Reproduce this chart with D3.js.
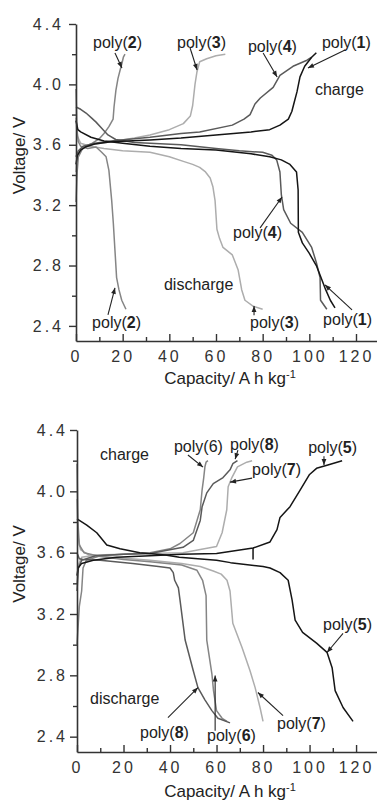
<!DOCTYPE html>
<html>
<head>
<meta charset="utf-8">
<script src="https://cdn.jsdelivr.net/npm/d3@7"></script>
<style>
  html, body { margin: 0; padding: 0; background: #fff; }
  svg { display: block; }
  .tick text { font-family: "Liberation Sans Narrow", "Liberation Sans", Arial, sans-serif; font-size: 16px; fill: #333; letter-spacing: 3px; }
  .title { font-family: "Liberation Sans", Arial, sans-serif; font-size: 17px; fill: #222; }
  .note { font-family: "Liberation Sans", Arial, sans-serif; font-size: 16px; fill: #222; }
</style>
</head>
<body>
<svg id="chart" width="377" height="804"></svg>
<script>
// ---- axis ticks ----
const capacityTicks = [0, 20, 40, 60, 80, 100, 120];
const capacityMinor = [10, 30, 50, 70, 90, 110];
const voltageTicks = [2.4, 2.8, 3.2, 3.6, 4.0, 4.4];
const voltageMinor = [2.6, 3.0, 3.4, 3.8, 4.2];

// ---- charge / discharge curves: [capacity (A h kg-1), voltage (V)] ----
const poly1Charge = [[0,3.47],[0.6,3.53],[2,3.565],[4,3.585],[8,3.605],[15,3.62],[31.7,3.632],[45,3.645],[60,3.665],[75,3.685],[83,3.70],[87.4,3.73],[91,3.77],[92.5,3.82],[93.5,3.88],[94.7,3.95],[96,4.05],[98,4.12],[101,4.18],[103,4.21]];
const poly1Discharge = [[0,3.76],[0.8,3.70],[2,3.685],[6.4,3.65],[12,3.625],[20,3.61],[31.7,3.59],[45,3.575],[60,3.565],[75,3.54],[83,3.52],[88,3.50],[91.7,3.47],[94.5,3.42],[95.2,3.30],[95.3,3.02],[97,2.95],[100,2.88],[103,2.80],[105,2.72],[107,2.64],[109,2.57],[111,2.52]];
const poly2Charge = [[0,3.22],[0.5,3.42],[1,3.52],[3,3.58],[7,3.61],[10,3.64],[12,3.675],[14.1,3.72],[15.9,3.77],[16.3,3.85],[17.1,3.96],[18,4.04],[19,4.10],[19.7,4.14],[20.3,4.18],[21,4.20]];
const poly2Discharge = [[0,3.97],[0.4,3.70],[1,3.62],[2,3.59],[5,3.575],[8.6,3.585],[11,3.55],[12.9,3.52],[14.1,3.43],[15.3,3.23],[16,3.08],[16.7,2.90],[17.4,2.72],[18.4,2.64],[19.6,2.57],[21.4,2.51]];
const poly3Charge = [[0,3.42],[0.5,3.52],[2,3.57],[6,3.60],[15,3.62],[25,3.645],[31.7,3.665],[40,3.70],[46,3.74],[49,3.79],[50,3.86],[51,4.00],[51.8,4.08],[53,4.15],[56,4.17],[60,4.19],[64,4.20]];
const poly3Discharge = [[0,3.78],[0.5,3.66],[2,3.61],[6,3.59],[12,3.575],[20,3.56],[31.7,3.55],[40,3.52],[46,3.49],[50,3.47],[53,3.45],[55.5,3.42],[57.5,3.38],[58.7,3.32],[59.6,3.23],[60.4,3.04],[61.5,2.98],[63,2.92],[67,2.87],[69.5,2.77],[71,2.64],[72.4,2.57],[76,2.53],[80,2.51]];
const poly4Charge = [[0,3.52],[1,3.56],[3,3.59],[8,3.61],[15,3.625],[31.7,3.65],[45,3.675],[53,3.685],[67,3.73],[72,3.77],[74.6,3.80],[76.7,3.87],[79,3.91],[84.5,3.98],[87.4,4.06],[93,4.12],[99,4.16],[101,4.18]];
const poly4Discharge = [[0,3.85],[2,3.835],[4.3,3.81],[6.5,3.78],[8.6,3.75],[11.6,3.70],[13.7,3.665],[17,3.635],[25,3.615],[31.7,3.61],[45,3.60],[60,3.575],[70,3.56],[80,3.55],[84,3.53],[86,3.50],[87.4,3.42],[88,3.27],[89,3.17],[92,3.08],[97,3.02],[101,2.92],[103,2.82],[104.6,2.72],[104.8,2.57],[107.5,2.51]];

const poly5Charge = [[0,3.45],[0.5,3.50],[2,3.53],[7,3.55],[17,3.57],[31.4,3.58],[45,3.59],[60,3.595],[75.7,3.63],[83,3.67],[86,3.75],[87.3,3.83],[91.6,3.90],[96,4.01],[100,4.11],[103,4.15],[107.5,4.17],[114,4.20]];
const poly5Step = [[75.7,3.63],[75.7,3.555]];
const poly5Discharge = [[0,3.82],[4.2,3.78],[8.5,3.73],[12.8,3.65],[18.5,3.625],[27,3.60],[38,3.585],[44,3.57],[60,3.55],[66,3.535],[80,3.51],[83,3.50],[87.3,3.47],[90.8,3.42],[92.5,3.29],[93.8,3.16],[97,3.08],[103,3.01],[107.5,2.95],[109.7,2.85],[111,2.70],[114.4,2.59],[118.7,2.50]];
const poly6Charge = [[0,3.00],[1,3.25],[2,3.35],[2.6,3.50],[4,3.55],[10,3.58],[20,3.59],[31.4,3.60],[40,3.625],[44.3,3.66],[50,3.73],[53,3.88],[53.8,4.01],[54.5,4.09],[55,4.16],[55.5,4.19],[56.3,4.20]];
const poly6Discharge = [[0,4.18],[0.4,3.80],[1,3.65],[3,3.60],[10,3.575],[20,3.555],[31.4,3.54],[45,3.52],[51.6,3.485],[54,3.42],[55.5,3.32],[55.8,3.03],[58,2.81],[58.7,2.70],[60,2.57],[62.4,2.52],[64.5,2.50]];
const poly7Charge = [[0,3.40],[0.6,3.52],[2,3.57],[8,3.585],[20,3.59],[31.4,3.595],[45.6,3.60],[53,3.62],[60,3.64],[62.4,3.73],[64.4,3.88],[65,4.03],[66.6,4.09],[69,4.16],[73,4.19],[75.3,4.20]];
const poly7Discharge = [[0,3.95],[0.5,3.70],[1.5,3.62],[5,3.585],[15,3.57],[31.4,3.55],[45,3.53],[53,3.51],[58.6,3.48],[62,3.46],[64.5,3.42],[65.8,3.35],[67,3.14],[71,2.98],[74.4,2.83],[76.6,2.72],[78.7,2.59],[80,2.50]];
const poly8Charge = [[0,3.35],[0.6,3.50],[2,3.55],[8,3.58],[20,3.59],[31.4,3.595],[45.6,3.635],[50,3.68],[53,3.81],[53.8,3.90],[55.8,3.99],[58.6,4.05],[62.8,4.09],[65.8,4.14],[67,4.18],[69,4.20]];
const poly8Discharge = [[0,3.60],[1,3.56],[2.6,3.555],[10,3.55],[24,3.53],[35,3.51],[40,3.50],[41.4,3.47],[42,3.42],[43.6,3.37],[44.3,3.29],[46.5,3.03],[50,2.83],[52,2.72],[55,2.64],[58,2.57],[60.6,2.52],[65.8,2.49]];

// ---- drawing ----
const svg = d3.select("#chart");
const tone = { black: "#151515", dark: "#5a5a5a", mid: "#858585", light: "#adadad" };

svg.append("defs").append("marker")
  .attr("id", "arrow").attr("viewBox", "0 0 10 10")
  .attr("refX", 10).attr("refY", 5)
  .attr("markerUnits", "userSpaceOnUse")
  .attr("markerWidth", 7).attr("markerHeight", 6)
  .attr("orient", "auto")
  .append("path").attr("d", "M0,1 L10,5 L0,9 Z").attr("fill", "#222");

const panels = [
  {
    xr: [76, 377], yr: [341, 24], yPad: 5, xPad: 10,
    series: [
      { v: poly3Charge, c: tone.light }, { v: poly3Discharge, c: tone.light },
      { v: poly2Charge, c: tone.mid }, { v: poly2Discharge, c: tone.mid },
      { v: poly4Charge, c: tone.dark }, { v: poly4Discharge, c: tone.dark },
      { v: poly1Charge, c: tone.black }, { v: poly1Discharge, c: tone.black }
    ],
    notes: [
      { t: "poly(", n: "2", at: [7.3, 4.241] },
      { t: "poly(", n: "3", at: [43.3, 4.241] },
      { t: "poly(", n: "4", at: [73.7, 4.215] },
      { t: "poly(", n: "1", at: [105.4, 4.241] },
      { t: "charge", at: [102.4, 3.93] },
      { t: "poly(", n: "4", at: [67.3, 2.983] },
      { t: "discharge", at: [37.7, 2.638] },
      { t: "poly(", n: "2", at: [6.9, 2.387] },
      { t: "poly(", n: "3", at: [74.6, 2.387] },
      { t: "poly(", n: "1", at: [105.9, 2.407] }
    ],
    arrows: [
      [[16.7, 4.208], [19.7, 4.109]],
      [[48.9, 4.241], [51.9, 4.095]],
      [[80.2, 4.208], [86.2, 4.049]],
      [[115.3, 4.228], [99.4, 4.109]],
      [[78.9, 3.049], [88.3, 3.254]],
      [[13.7, 2.473], [16.7, 2.652]],
      [[76.3, 2.47], [76.3, 2.532]],
      [[118.3, 2.506], [106.7, 2.672]]
    ],
    titleY: 384
  },
  {
    xr: [77, 377], yr: [752, 430], yPad: 2, xPad: 10,
    series: [
      { v: poly7Charge, c: tone.light }, { v: poly7Discharge, c: tone.light },
      { v: poly6Charge, c: tone.mid }, { v: poly6Discharge, c: tone.mid },
      { v: poly8Charge, c: tone.dark }, { v: poly8Discharge, c: tone.dark },
      { v: poly5Charge, c: tone.black }, { v: poly5Step, c: tone.black },
      { v: poly5Discharge, c: tone.black }
    ],
    notes: [
      { t: "charge", at: [9.9, 4.204] },
      { t: "poly(6)", at: [41.7, 4.256] },
      { t: "poly(", n: "8", at: [65.8, 4.269] },
      { t: "poly(", n: "7", at: [75.3, 4.106] },
      { t: "poly(", n: "5", at: [99.4, 4.25] },
      { t: "discharge", at: [5.6, 2.616] },
      { t: "poly(", n: "8", at: [27.1, 2.393] },
      { t: "poly(", n: "6", at: [55.9, 2.374] },
      { t: "poly(", n: "7", at: [86.0, 2.452] },
      { t: "poly(", n: "5", at: [105.8, 3.093] }
    ],
    arrows: [
      [[47.7, 4.237], [54.2, 4.158]],
      [[69.2, 4.269], [68.0, 4.210]],
      [[75.3, 4.086], [65.8, 4.06]],
      [[106.2, 4.228], [106.2, 4.171]],
      [[39.1, 2.524], [52.0, 2.72]],
      [[59.4, 2.439], [59.4, 2.799]],
      [[88.6, 2.537], [77.8, 2.688]],
      [[114.4, 3.073], [107.5, 2.949]]
    ],
    titleY: 797
  }
];

panels.forEach(p => {
  const x = d3.scaleLinear().domain([0, 129]).range(p.xr);
  const y = d3.scaleLinear().domain([2.3, 4.4]).range(p.yr);
  const g = svg.append("g");

  const line = d3.line().x(d => x(d[0])).y(d => y(d[1]));
  g.selectAll("path.curve").data(p.series).join("path")
    .attr("class", "curve")
    .attr("d", s => line(s.v))
    .attr("fill", "none")
    .attr("stroke", s => s.c)
    .attr("stroke-width", 1.5)
    .attr("stroke-linejoin", "round");

  // y axis: outward ticks
  g.append("g").attr("transform", `translate(${p.xr[0]},0)`)
    .call(d3.axisLeft(y).tickValues(voltageTicks).tickFormat(d3.format(".1f"))
      .tickSize(7).tickSizeOuter(0).tickPadding(p.yPad));
  g.append("g").attr("transform", `translate(${p.xr[0]},0)`)
    .call(d3.axisLeft(y).tickValues(voltageMinor).tickFormat("").tickSize(4).tickSizeOuter(0))
    .select(".domain").remove();

  // x axis: inward ticks
  g.append("g").attr("transform", `translate(0,${p.yr[0]})`)
    .call(d3.axisBottom(x).tickValues(capacityTicks).tickFormat(d3.format("d"))
      .tickSize(-7).tickSizeOuter(0).tickPadding(p.xPad));
  g.append("g").attr("transform", `translate(0,${p.yr[0]})`)
    .call(d3.axisBottom(x).tickValues(capacityMinor).tickFormat("").tickSize(-4).tickSizeOuter(0))
    .select(".domain").remove();

  g.selectAll(".domain").attr("stroke", "#333").attr("stroke-width", 1.6);
  g.selectAll(".tick line").attr("stroke", "#333").attr("stroke-width", 1.4);

  // axis titles
  g.append("text").attr("class", "title")
    .attr("transform", `translate(25,${(p.yr[0] + p.yr[1]) / 2 - 27}) rotate(-90)`)
    .attr("text-anchor", "middle").text("Voltage/ V");
  const cap = g.append("text").attr("class", "title")
    .attr("x", 230).attr("y", p.titleY).attr("text-anchor", "middle");
  cap.append("tspan").text("Capacity/ A h kg");
  cap.append("tspan").attr("dy", -6).attr("font-size", 11).text("-1");

  // annotations
  p.notes.forEach(nt => {
    const t = g.append("text").attr("class", "note")
      .attr("x", x(nt.at[0])).attr("y", y(nt.at[1]));
    t.append("tspan").text(nt.t);
    if (nt.n) {
      t.append("tspan").attr("font-weight", "bold").text(nt.n);
      t.append("tspan").text(")");
    }
  });
  g.selectAll("line.arrow").data(p.arrows).join("line")
    .attr("class", "arrow")
    .attr("x1", a => x(a[0][0])).attr("y1", a => y(a[0][1]))
    .attr("x2", a => x(a[1][0])).attr("y2", a => y(a[1][1]))
    .attr("stroke", "#222").attr("stroke-width", 1.1)
    .attr("marker-end", "url(#arrow)");
});
</script>
</body>
</html>
